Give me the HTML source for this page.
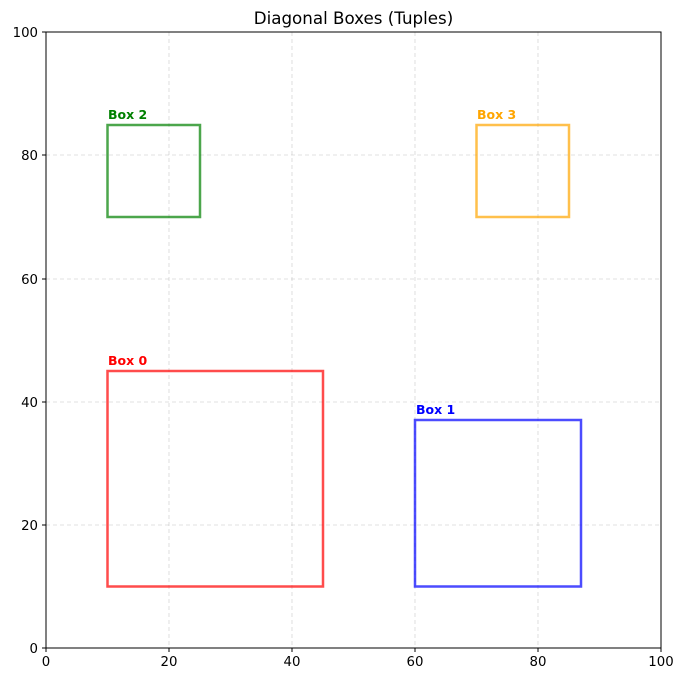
<!DOCTYPE html>
<html><head><style>body{margin:0;background:#fff}</style></head><body>
<svg width="685" height="682" xmlns="http://www.w3.org/2000/svg" font-family="DejaVu Sans, sans-serif">
<rect width="685" height="682" fill="#fff"/>
<g stroke="#b0b0b0" stroke-opacity="0.5" stroke-dasharray="4,3" stroke-width="0.8">
<line x1="169" y1="32" x2="169" y2="648"/><line x1="292" y1="32" x2="292" y2="648"/>
<line x1="415" y1="32" x2="415" y2="648"/><line x1="538" y1="32" x2="538" y2="648"/>
<line x1="46" y1="525" x2="661" y2="525"/><line x1="46" y1="402" x2="661" y2="402"/>
<line x1="46" y1="279" x2="661" y2="279"/><line x1="46" y1="155" x2="661" y2="155"/>
</g>
<g fill="none" stroke-width="2.5" stroke-opacity="0.7">
<rect x="107.5" y="371" width="215.5" height="215.5" stroke="red"/>
<rect x="415" y="420" width="166" height="166.5" stroke="blue"/>
<rect x="107.5" y="125" width="92.5" height="92" stroke="green"/>
<rect x="476.5" y="125" width="92.5" height="92" stroke="orange"/>
</g>
<g font-size="12.5" font-weight="bold">
<text x="108" y="365" fill="red">Box 0</text>
<text x="416" y="414" fill="blue">Box 1</text>
<text x="108" y="119" fill="green">Box 2</text>
<text x="477" y="119" fill="orange">Box 3</text>
</g>
<rect x="46" y="32" width="615" height="616" fill="none" stroke="#000" stroke-width="1"/>
<g stroke="#000" stroke-width="1">
<line x1="46" y1="648" x2="46" y2="652"/><line x1="169" y1="648" x2="169" y2="652"/><line x1="292" y1="648" x2="292" y2="652"/><line x1="415" y1="648" x2="415" y2="652"/><line x1="538" y1="648" x2="538" y2="652"/><line x1="661" y1="648" x2="661" y2="652"/>
<line x1="42" y1="648" x2="46" y2="648"/><line x1="42" y1="525" x2="46" y2="525"/><line x1="42" y1="402" x2="46" y2="402"/><line x1="42" y1="279" x2="46" y2="279"/><line x1="42" y1="155" x2="46" y2="155"/><line x1="42" y1="32" x2="46" y2="32"/>
</g>
<g font-size="13.3" fill="#000" text-anchor="middle">
<text x="46" y="666">0</text><text x="169" y="666">20</text><text x="292" y="666">40</text><text x="415" y="666">60</text><text x="538" y="666">80</text><text x="661" y="666">100</text>
</g>
<g font-size="13.3" fill="#000" text-anchor="end">
<text x="38" y="653">0</text><text x="38" y="530">20</text><text x="38" y="407">40</text><text x="38" y="284">60</text><text x="38" y="160">80</text><text x="38" y="37">100</text>
</g>
<text x="353.5" y="24" font-size="16.7" text-anchor="middle">Diagonal Boxes (Tuples)</text>
</svg>
</body></html>
